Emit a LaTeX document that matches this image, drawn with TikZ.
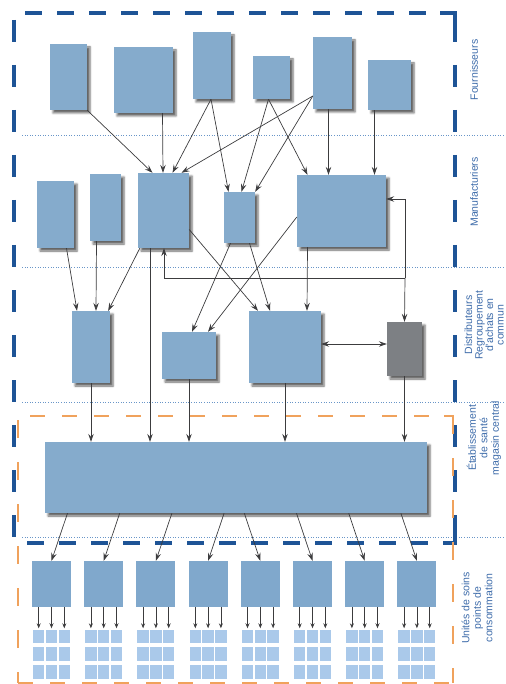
\documentclass[tikz,border=0pt]{standalone}
\usepackage{fontspec}
\setmainfont{Liberation Sans}
\usetikzlibrary{arrows.meta,shadows.blur,calc}
\definecolor{bleuboite}{RGB}{133,171,204}
\definecolor{bleuunite}{RGB}{128,168,204}
\definecolor{bleucellule}{RGB}{170,201,234}
\definecolor{grisboite}{RGB}{125,128,132}
\definecolor{grisfleche}{RGB}{60,60,62}
\definecolor{bleutiret}{RGB}{30,84,150}
\definecolor{orangetiret}{RGB}{240,162,92}
\definecolor{bleupointille}{RGB}{105,150,200}
\definecolor{bleutexte}{RGB}{62,108,170}
\begin{document}
\begin{tikzpicture}[x=1pt,y=-1pt,
        boite/.style={fill=bleuboite,inner sep=0,blur shadow={shadow xshift=3pt,shadow yshift=-3pt,shadow blur radius=2pt,shadow opacity=60}},
        boitegrise/.style={boite,fill=grisboite},
        unite/.style={fill=bleuunite,inner sep=0,minimum width=39,minimum height=46},
        cellule/.style={fill=bleucellule,inner sep=0,minimum width=11.5,minimum height=13.5},
        fleche/.style={draw=grisfleche,line width=0.7pt,-{Stealth[length=8pt,width=5.5pt,inset=3pt]}},
        petitefleche/.style={draw=grisfleche,line width=0.6pt,shorten >=1.5pt,-{Stealth[length=5pt,width=4pt,inset=1.8pt]}},
        flechedouble/.style={fleche,{Stealth[length=8pt,width=5.5pt,inset=3pt]}-{Stealth[length=8pt,width=5.5pt,inset=3pt]}},
        pointille/.style={draw=bleupointille,dotted,line width=0.6pt},
        tiretbleuh/.style={draw=bleutiret,line width=3.5pt,dash pattern=on 17pt off 15pt},
        tiretbleuv/.style={draw=bleutiret,line width=3.5pt,dash pattern=on 22pt off 23pt},
        tiretorangeh/.style={draw=orangetiret,line width=2pt,dash pattern=on 15pt off 17pt},
        tiretorangev/.style={draw=orangetiret,line width=2pt,dash pattern=on 18pt off 24pt},
        etiquette/.style={rotate=90,align=center,text=bleutexte,font=\fontsize{10.5}{11.5}\selectfont}]
        \useasboundingbox (0,0) rectangle (505,684);
        \draw[pointille] (22,135) -- (505,135);
        \draw[pointille] (22,267) -- (505,267);
        \draw[pointille] (22,402) -- (505,402);
        \draw[pointille] (22,537) -- (505,537);
        \draw[tiretbleuh] (25,13) -- (455,13);
        \draw[tiretbleuv] (14,20) -- (14,541);
        \draw[tiretbleuv] (455,20) -- (455,543);
        \draw[tiretbleuh] (27,543) -- (457,543);
        \draw[draw=bleutiret,line width=3.5pt] (440,13) -- (455,13) -- (455,22);
        \draw[draw=bleutiret,line width=3.5pt] (455,528) -- (455,543) -- (445,543);
        \draw[tiretorangeh] (30,416) -- (453,416);
        \draw[tiretorangev] (18,420) -- (18,683);
        \draw[tiretorangev] (453,416) -- (453,683);
        \draw[tiretorangeh] (18,683) -- (453,683);
        \draw[draw=orangetiret,line width=2pt] (444,416) -- (453,416) -- (453,426);
        \node[boite, minimum width=37, minimum height=66] (F1) at (68.5,77) {};
        \node[boite, minimum width=59, minimum height=66] (F2) at (143.5,80) {};
        \node[boite, minimum width=38, minimum height=67] (F3) at (212,65.5) {};
        \node[boite, minimum width=37, minimum height=43] (F4) at (271.5,77.5) {};
        \node[boite, minimum width=39, minimum height=72] (F5) at (332.5,73) {};
        \node[boite, minimum width=43, minimum height=50] (F6) at (389.5,85) {};
        \node[boite, minimum width=37, minimum height=67] (M1) at (55.5,214.5) {};
        \node[boite, minimum width=31, minimum height=67] (M2) at (105.5,207.5) {};
        \node[boite, minimum width=51, minimum height=75] (M3) at (163.5,210.5) {};
        \node[boite, minimum width=31, minimum height=51] (M4) at (239.5,217.5) {};
        \node[boite, minimum width=89, minimum height=72] (M5) at (341.5,211) {};
        \node[boite, minimum width=38, minimum height=72] (D1) at (91,347) {};
        \node[boite, minimum width=54, minimum height=47] (D2) at (189,355.5) {};
        \node[boite, minimum width=72, minimum height=72] (D3) at (285,347) {};
        \node[boitegrise, minimum width=35, minimum height=54] (D4) at (404.5,349) {};
        \node[boite, minimum width=382, minimum height=71] (C) at (236,477.5) {};
        \coordinate (J) at (405,278);
        \draw[fleche] (F1.south east) -- ([xshift=-11pt]M3.north);
        \draw[fleche] ([xshift=19pt]F2.south) -- ([xshift=-0.5pt]M3.north);
        \draw[fleche] ([xshift=-1pt]F3.south) -- ([xshift=9pt]M3.north);
        \draw[fleche] ([yshift=-23pt]F5.west) -- ([xshift=18pt]M3.north);
        \draw[fleche] ([xshift=-1pt]F3.south) -- ([xshift=-11pt]M4.north);
        \draw[fleche] ([xshift=-3pt]F4.south) -- ([xshift=2pt]M4.north);
        \draw[fleche] ([yshift=-23pt]F5.west) -- (M4.north east);
        \draw[fleche] ([xshift=-3pt]F4.south) -- ([xshift=-34pt]M5.north);
        \draw[fleche] ([xshift=-4pt]F5.south) -- ([xshift=-13pt]M5.north);
        \draw[fleche] ([xshift=-15pt]F6.south) -- ([xshift=33pt]M5.north);
        \draw[fleche] ([xshift=11pt]M1.south) -- ([xshift=-14pt]D1.north);
        \draw[fleche] ([xshift=-9pt]M2.south) -- ([xshift=5pt]D1.north);
        \draw[fleche] ([xshift=2pt]M3.south west) -- ([xshift=-2pt]D1.north east);
        \draw[fleche] ([xshift=-9pt]M4.south) -- ([xshift=3pt]D2.north);
        \draw[fleche] ([yshift=-6pt]M5.west) -- ([xshift=19pt]D2.north);
        \draw[fleche] ([yshift=-19pt]M3.east) -- ([xshift=-27pt]D3.north);
        \draw[fleche] ([xshift=10pt]M4.south) -- ([xshift=-15pt]D3.north);
        \draw[fleche] ([xshift=-34pt]M5.south) -- ([xshift=22pt]D3.north);
        \draw[fleche] (J) |- ([yshift=12pt]M5.east);
        \draw[fleche] (J) -- (D4.north);
        \draw[fleche] (J) -| ([xshift=0.5pt]M3.south);
        \draw[flechedouble] ([yshift=3pt]D3.east) -- ([yshift=5pt]D4.west);
        \draw[fleche] (D1.south) -- (D1.south |- C.north);
        \draw[fleche] ($(M3.south)+(-13.5,0)$) -- ($(M3.south |- C.north)+(-13.5,0)$);
        \draw[fleche] (D2.south) -- (D2.south |- C.north);
        \draw[fleche] (D3.south) -- (D3.south |- C.north);
        \draw[fleche] (D4.south) -- (D4.south |- C.north);
        \foreach \i/\dx in {1/16,2/16,3/16,4/16,5/-16,6/-16,7/-16,8/-16}{
            \pgfmathsetmacro\ux{51.5+52.2*(\i-1)}
            \node[unite] (U\i) at (\ux,584) {};
            \draw[fleche] ($(U\i.north |- C.south)+(\dx,0)$) -- (U\i.north);
            \foreach \c/\cx in {1/-12.8,2/0,3/12.8}{
                \foreach \r/\ry in {1/636.7,2/654.2,3/672}{
                    \node[cellule] (G\i-\c-\r) at (\ux+\cx,\ry) {};
                }
                \draw[petitefleche] (G\i-\c-1.north |- U\i.south) -- (G\i-\c-1.north);
            }
        }
        \node[etiquette] (lf) at (474,70) {Fournisseurs};
        \node[etiquette] (lm) at (474,192) {Manufacturiers};
        \node[etiquette, font=\fontsize{10.5}{10.5}\selectfont] (ld) at (484,325) {Distributeurs\\Regroupement\\d'achats en\\commun};
        \node[etiquette] (le) at (484,438) {Établissement\\de santé\\magasin central};
        \node[etiquette] (lu) at (477,608) {Unités de soins\\points de\\consommation};
    \end{tikzpicture}
\end{document}
